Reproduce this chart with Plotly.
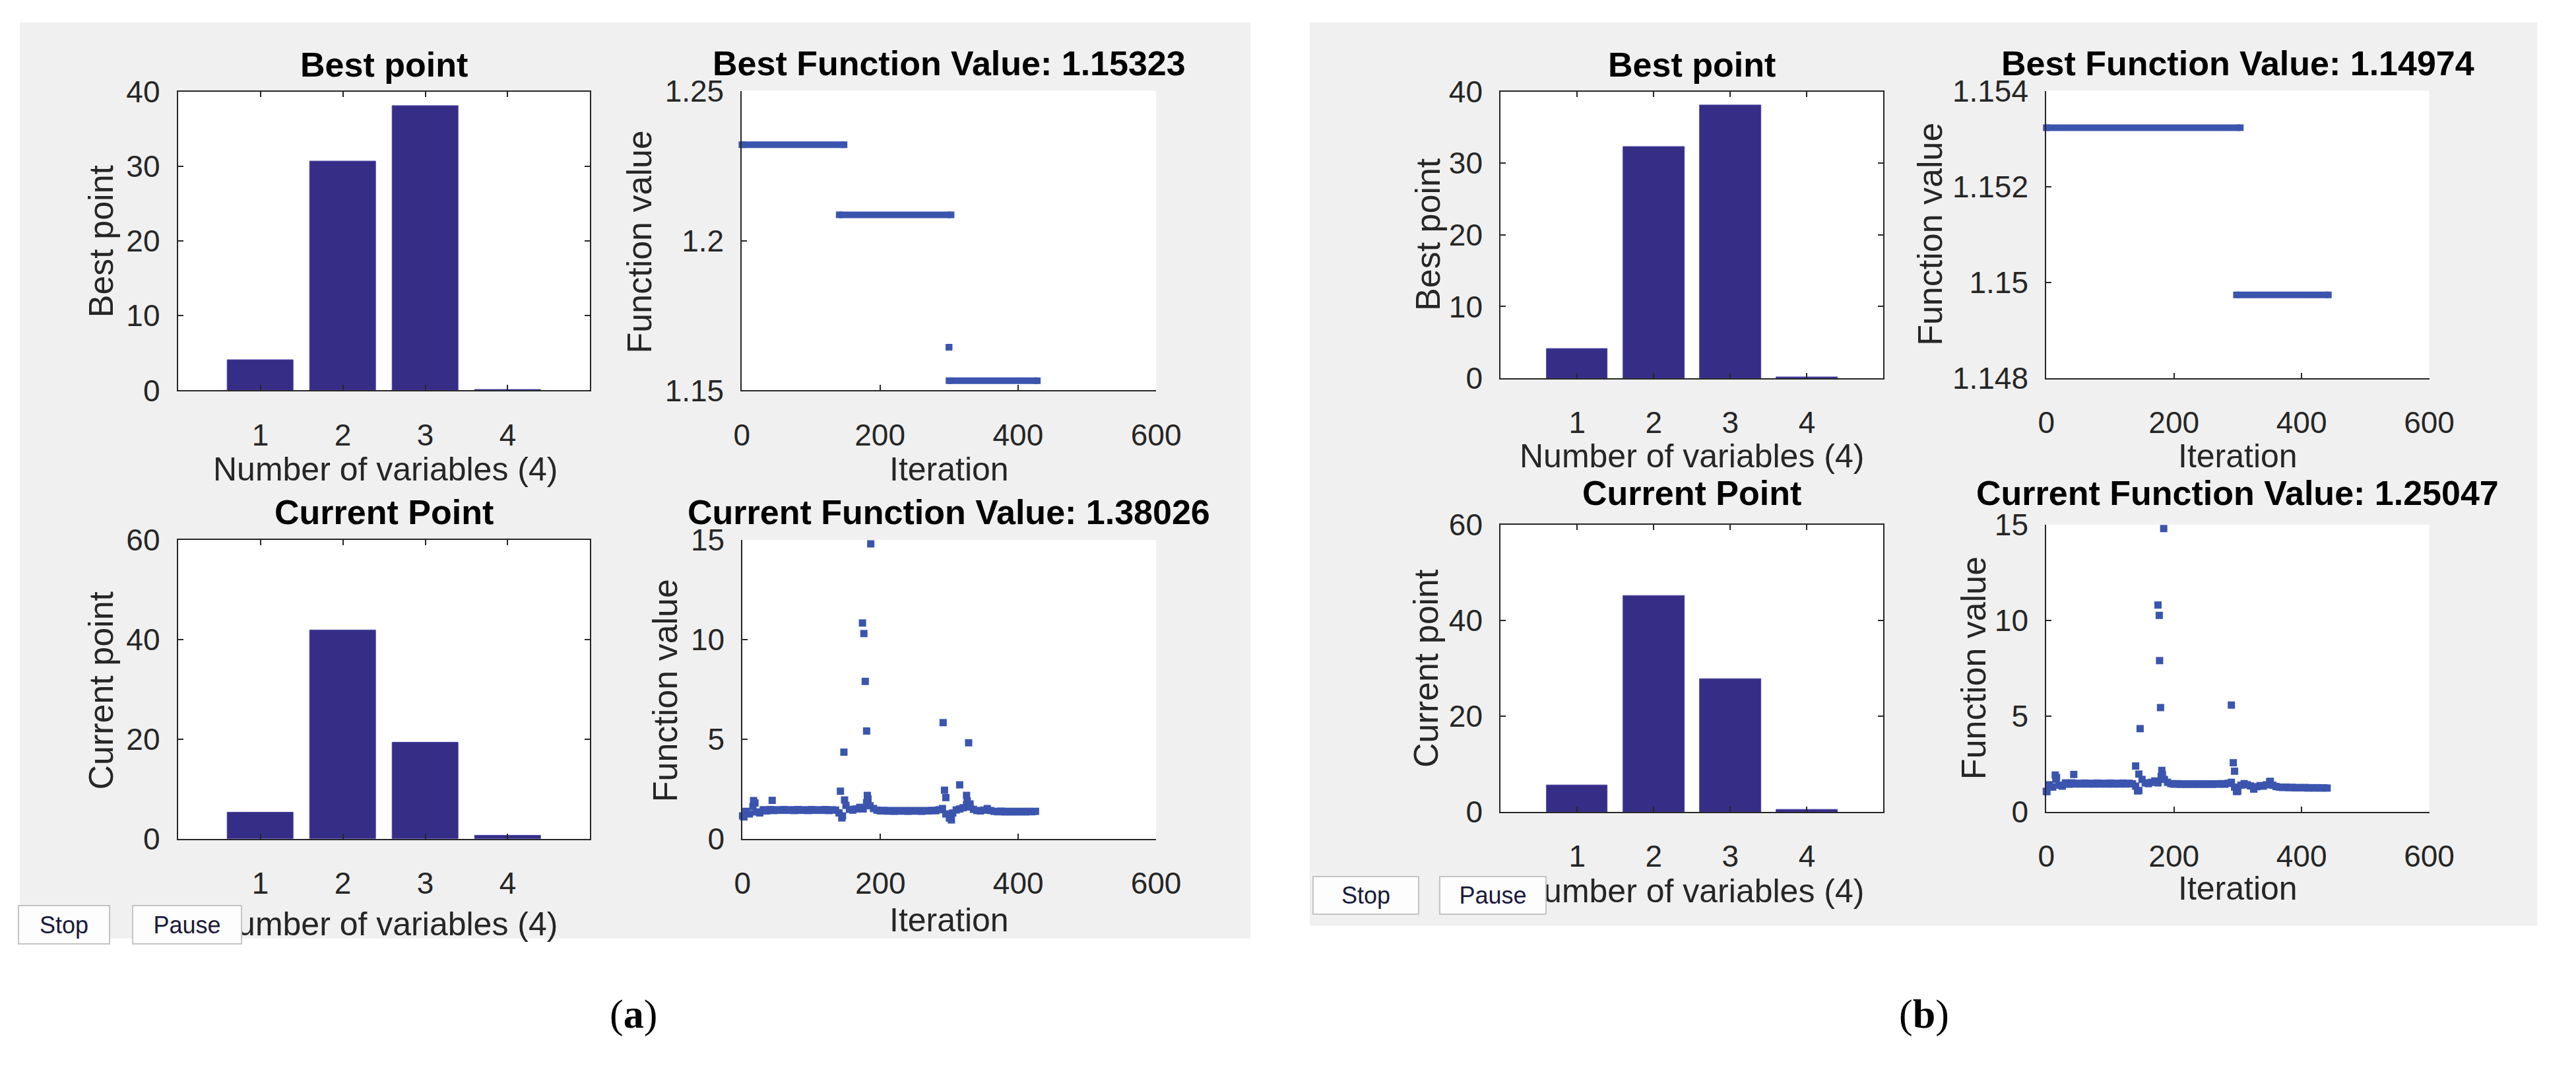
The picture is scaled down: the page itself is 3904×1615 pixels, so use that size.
import plotly.graph_objects as go

W, H = 3904, 1615

# ---- data ----
variables = [1, 2, 3, 4]
best_point_a = [4.05, 30.6, 38.1, 0.12]
current_point_a = [5.3, 41.8, 19.3, 0.6]
best_point_b = [4.1, 32.3, 38.1, 0.12]
current_point_b = [5.6, 45.1, 27.7, 0.5]

# best function value: flat stretches (first iteration, last iteration, value)
best_from_a = [0, 141, 300, 300]
best_to_a = [148, 303, 300, 428]
best_val_a = [1.2320, 1.2086, 1.1644, 1.15323]
best_from_b = [0, 298]
best_to_b = [304, 442]
best_val_b = [1.15323, 1.14974]

# current function value, read every 5 iterations
cur_iter_a = list(range(0, 430, 5))
cur_val_a = [1.15, 1.38, 1.25, 1.62, 1.35, 1.30, 1.46, 1.40, 1.47, 1.42,
             1.46, 1.43, 1.47, 1.43, 1.46, 1.42, 1.47, 1.43, 1.46, 1.42,
             1.47, 1.43, 1.46, 1.43, 1.47, 1.42, 1.46, 1.44, 1.30, 1.15,
             1.68, 1.48, 1.44, 1.50, 1.58, 1.50, 1.82, 1.66, 1.52, 1.44,
             1.40, 1.43, 1.39, 1.42, 1.38, 1.42, 1.39, 1.42, 1.38, 1.42,
             1.39, 1.42, 1.38, 1.42, 1.40, 1.43, 1.41, 1.46, 1.52, 1.25,
             1.05, 1.30, 1.45, 1.50, 1.56, 1.72, 1.60, 1.48, 1.42, 1.40,
             1.44, 1.52, 1.42, 1.38, 1.36, 1.39, 1.35, 1.38, 1.35, 1.38,
             1.35, 1.38, 1.35, 1.38, 1.36, 1.38]
cur_iter_b = list(range(0, 445, 5))
cur_val_b = [1.08, 1.42, 1.30, 1.70, 1.40, 1.35, 1.52, 1.45, 1.52, 1.46,
             1.50, 1.46, 1.51, 1.46, 1.50, 1.46, 1.51, 1.46, 1.50, 1.46,
             1.51, 1.46, 1.50, 1.46, 1.51, 1.46, 1.50, 1.47, 1.35, 1.12,
             1.70, 1.52, 1.48, 1.55, 1.62, 1.52, 1.85, 1.70, 1.55, 1.48,
             1.45, 1.48, 1.44, 1.47, 1.44, 1.47, 1.44, 1.47, 1.44, 1.47,
             1.44, 1.47, 1.44, 1.47, 1.45, 1.48, 1.45, 1.50, 1.55, 1.30,
             1.08, 1.40, 1.48, 1.42, 1.36, 1.20, 1.32, 1.38, 1.35, 1.42,
             1.58, 1.40, 1.33, 1.30, 1.28, 1.30, 1.27, 1.29, 1.26, 1.28,
             1.26, 1.28, 1.25, 1.27, 1.25, 1.27, 1.25, 1.26, 1.25]

# isolated points away from the band
spike_iter_a = [2, 16, 18, 43, 142, 144, 147, 148, 174, 176, 178, 180, 181, 182, 186,
                291, 293, 295, 301, 303, 315, 325, 326, 328, 330]
spike_val_a = [1.10, 1.92, 1.80, 1.93, 2.39, 1.05, 4.35, 1.95, 10.83, 10.3, 7.9, 5.41, 2.18, 2.0, 14.8,
               5.83, 2.44, 2.07, 1.06, 0.95, 2.71, 2.18, 1.9, 4.82, 1.75]
spike_iter_b = [1, 14, 16, 43, 140, 143, 145, 147, 175, 177, 177.5, 179, 181, 182, 184,
                290, 293, 295, 298, 325, 351]
spike_val_b = [1.06, 1.93, 1.80, 1.96, 2.40, 1.10, 1.98, 4.35, 10.8, 10.26, 7.9, 5.45, 2.17, 1.95, 14.79,
               5.58, 2.57, 2.13, 1.07, 1.20, 1.60]

titles = ["Best point", "Best Function Value: 1.15323", "Current Point", "Current Function Value: 1.38026",
          "Best point", "Best Function Value: 1.14974", "Current Point", "Current Function Value: 1.25047"]
ylabels = ["Best point", "Function value", "Current point", "Function value"] * 2
xlabels = ["Number of variables (4)", "Iteration"] * 4

# ---- style ----
SANS = "Liberation Sans, Arial, sans-serif"
SERIF = "Liberation Serif, Times New Roman, serif"
AXIS = "#262626"
BAR = "#362D87"
DOT = "#3B55AE"
PANEL = "#F0F0F0"


def px(x):
    return x / W


def py(y):
    return 1 - y / H


# pixel boxes of the eight axes: (left, right, top, bottom)
boxes = [(252, 885, 108, 576), (1118, 1754, 107, 576), (252, 885, 810, 1278), (1119, 1754, 810, 1278),
         (2283, 2871, 108, 557), (3121, 3709, 107, 557), (2283, 2871, 786, 1236), (3121, 3709, 786, 1236)]
title_pos = [(568, 66), (1436, 64), (568, 767), (1436, 767),
             (2577, 66), (3415, 64), (2577, 737), (3415, 737)]
ylabel_pos = [(134, 342), (960, 343), (134, 1046), (1000, 1046),
              (2172, 332), (2943, 332), (2169, 1011), (3010, 1011)]
xlabel_pos = [(570, 700), (1436, 700), (570, 1411), (1436, 1405),
              (2577, 679), (3415, 679), (2577, 1360), (3415, 1356)]

fig = go.Figure()


def ax_id(i):
    return ("x", "y") if i == 0 else (f"x{i + 1}", f"y{i + 1}")


def axis(dom, rng, box, anchor, vertical, **extra):
    d = dict(domain=dom, range=rng, anchor=anchor, showline=True, linewidth=2, linecolor=AXIS,
             mirror="ticks" if box else False, ticks="inside", ticklen=8, tickwidth=2, tickcolor=AXIS,
             showgrid=False, zeroline=False, fixedrange=True,
             tickfont=dict(family=SANS, size=46, color=AXIS),
             ticklabelstandoff=16 if vertical else 26)
    d.update(extra)
    return d


layout_axes = {}
bar_sets = [best_point_a, current_point_a, best_point_b, current_point_b]
for i, (l, r, t, b) in enumerate(boxes):
    xa, ya = ax_id(i)
    xkey = "xaxis" if i == 0 else f"xaxis{i + 1}"
    ykey = "yaxis" if i == 0 else f"yaxis{i + 1}"
    xdom = [px(l), px(r)]
    ydom = [py(b), py(t)]
    if i % 2 == 0:
        ymax = 40 if i in (0, 4) else 60
        layout_axes[xkey] = axis(xdom, [0, 5], True, ya, False, tickvals=variables)
        layout_axes[ykey] = axis(ydom, [0, ymax], True, xa, True, dtick=10 if ymax == 40 else 20)
    else:
        layout_axes[xkey] = axis(xdom, [0, 600], False, ya, False, tickvals=[0, 200, 400, 600])
        if i == 1:
            layout_axes[ykey] = axis(ydom, [1.15, 1.25], False, xa, True,
                                     tickvals=[1.15, 1.2, 1.25], ticktext=["1.15", "1.2", "1.25"])
        elif i == 5:
            layout_axes[ykey] = axis(ydom, [1.148, 1.154], False, xa, True,
                                     tickvals=[1.148, 1.15, 1.152, 1.154],
                                     ticktext=["1.148", "1.15", "1.152", "1.154"])
        else:
            layout_axes[ykey] = axis(ydom, [0, 15], False, xa, True, tickvals=[0, 5, 10, 15])

# bars
for i, vals in zip([0, 2, 4, 6], bar_sets):
    xa, ya = ax_id(i)
    fig.add_trace(go.Bar(x=variables, y=vals, width=0.8, xaxis=xa, yaxis=ya,
                         marker=dict(color=BAR, line=dict(color="#4C46A6", width=1))))

# best function value stretches
for i, (f0, f1, v) in zip([1, 5], [(best_from_a, best_to_a, best_val_a), (best_from_b, best_to_b, best_val_b)]):
    xa, ya = ax_id(i)
    xs, ys = [], []
    for s, e, val in zip(f0, f1, v):
        xs += [s, e, None]
        ys += [val, val, None]
    fig.add_trace(go.Scatter(x=xs, y=ys, mode="lines+markers", xaxis=xa, yaxis=ya, cliponaxis=False,
                             line=dict(color=DOT, width=10),
                             marker=dict(symbol="square", size=10, color=DOT)))

# current function value
for i, its, vals, si, sv in [(3, cur_iter_a, cur_val_a, spike_iter_a, spike_val_a),
                             (7, cur_iter_b, cur_val_b, spike_iter_b, spike_val_b)]:
    xa, ya = ax_id(i)
    fig.add_trace(go.Scatter(x=its + si, y=vals + sv, mode="markers", xaxis=xa, yaxis=ya, cliponaxis=False,
                             marker=dict(symbol="square", size=11, color=DOT, line=dict(width=0))))

# panel backgrounds and white plot areas
shapes = [
    dict(type="rect", xref="paper", yref="paper", x0=px(9), x1=px(1899), y0=py(1434), y1=py(0),
         fillcolor=PANEL, line=dict(width=0), layer="below"),
    dict(type="rect", xref="paper", yref="paper", x0=px(1990), x1=px(3875), y0=py(1414), y1=py(0),
         fillcolor=PANEL, line=dict(width=0), layer="below"),
]
for (l, r, t, b) in boxes:
    shapes.append(dict(type="rect", xref="paper", yref="paper", x0=px(l), x1=px(r), y0=py(b), y1=py(t),
                       fillcolor="white", line=dict(width=0), layer="below"))

annotations = []


def text(x, y, s, size, color=AXIS, angle=0, family=SANS):
    annotations.append(dict(x=px(x), y=py(y), xref="paper", yref="paper", text=s, showarrow=False,
                            xanchor="center", yanchor="middle", textangle=angle,
                            font=dict(family=family, size=size, color=color)))


for i in range(8):
    text(*title_pos[i], f"<b>{titles[i]}</b>", 52, color="#000000")
    text(*ylabel_pos[i], ylabels[i], 52, angle=-90)
    text(*xlabel_pos[i], xlabels[i], 50)


def button(x0, x1, y0, y1, label):
    annotations.append(dict(x=px((x0 + x1) / 2), y=py((y0 + y1) / 2), xref="paper", yref="paper",
                            text=label, showarrow=False, xanchor="center", yanchor="middle",
                            width=x1 - x0, height=y1 - y0, bgcolor="#FDFDFD", bordercolor="#C4C4C4",
                            borderwidth=2, borderpad=0, align="center", valign="middle",
                            font=dict(family=SANS, size=36, color="#1A1A3A")))


button(9, 145, 1384, 1440, "Stop")
button(184, 347, 1384, 1440, "Pause")
button(1997, 2155, 1339, 1394, "Stop")
button(2192, 2351, 1339, 1394, "Pause")

text(951, 1553, "(<b>a</b>)", 62, color="#000000", family=SERIF)
text(2933, 1553, "(<b>b</b>)", 62, color="#000000", family=SERIF)

fig.update_layout(width=W, height=H, margin=dict(l=0, r=0, t=0, b=0),
                  paper_bgcolor="white", plot_bgcolor="rgba(0,0,0,0)", showlegend=False,
                  hovermode=False, bargap=0, shapes=shapes, annotations=annotations, **layout_axes)

fig.write_html("out.html")
